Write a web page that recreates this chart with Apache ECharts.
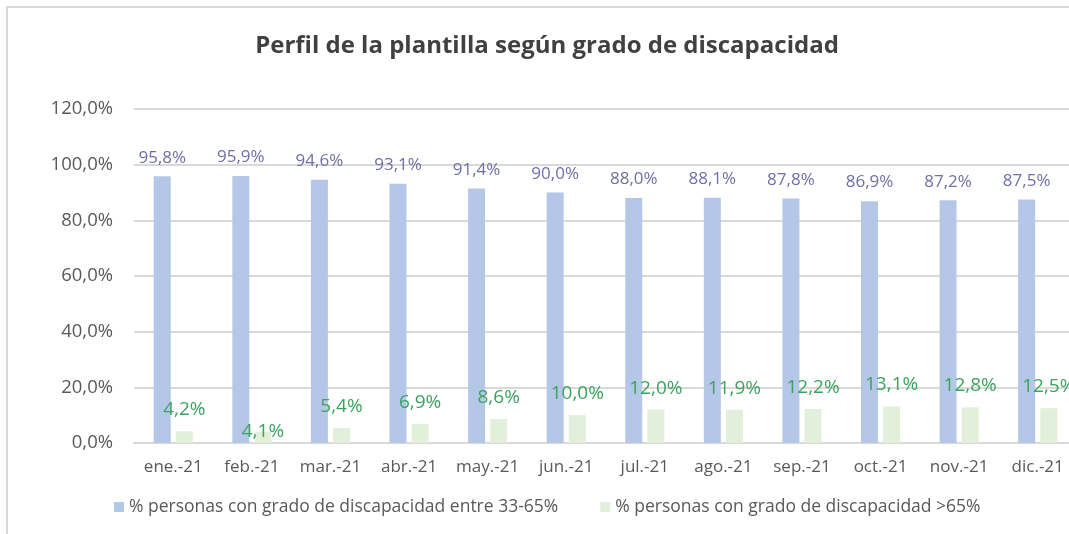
<!DOCTYPE html>
<html>
<head>
<meta charset="utf-8">
<script src="https://cdn.jsdelivr.net/npm/echarts@6/dist/echarts.min.js"></script>
<style>
html,body{margin:0;padding:0;background:#fff;}
#c{width:1069px;height:534px;}
</style>
</head>
<body>
<div id="c"></div>
<script>
const categories = ['ene.-21','feb.-21','mar.-21','abr.-21','may.-21','jun.-21','jul.-21','ago.-21','sep.-21','oct.-21','nov.-21','dic.-21'];
const seriesNames = ['% personas con grado de discapacidad entre 33-65%', '% personas con grado de discapacidad >65%'];
const grade33to65 = [95.8, 95.9, 94.6, 93.1, 91.4, 90.0, 88.0, 88.1, 87.8, 86.9, 87.2, 87.5];
const gradeOver65 = [4.2, 4.1, 5.4, 6.9, 8.6, 10.0, 12.0, 11.9, 12.2, 13.1, 12.8, 12.5];
const yTicks = { min: 0, max: 120, interval: 20 };

const FONT = '"Open Sans", "Noto Sans", sans-serif';
const fmt = v => v.toFixed(1).replace('.', ',') + '%';

const chart = echarts.init(document.getElementById('c'));
const greenData = gradeOver65.map((v, i) => {
  const item = { value: v };
  if (i === 1) item.label = { offset: [0, 22] };
  return item;
});
chart.setOption({
  animation: false,
  backgroundColor: '#ffffff',
  title: {
    text: 'Perfil de la plantilla según grado de discapacidad',
    left: 542, top: 29, textAlign: 'center',
    textStyle: { fontFamily: FONT, fontSize: 24, fontWeight: 'bold', color: '#404040' }
  },
  graphic: [{
    type: 'rect', silent: true,
    shape: { x: 7, y: 7, width: 1100, height: 560 },
    style: { fill: 'none', stroke: '#D9D9D9', lineWidth: 2 }
  }],
  legend: {
    left: 109, top: 493, itemWidth: 10, itemHeight: 10, itemGap: 42,
    icon: 'rect',
    textStyle: { fontFamily: FONT, fontSize: 17.5, color: '#595959' },
    data: seriesNames
  },
  grid: { left: 134, top: 109, width: 943, bottom: 91, containLabel: false, outerBoundsMode: 'none' },
  xAxis: {
    type: 'category', data: categories,
    axisLine: { lineStyle: { color: '#D9D9D9', width: 2 } },
    axisTick: { show: false },
    axisLabel: { interval: 0, hideOverlap: false, fontFamily: FONT, fontSize: 17, color: '#595959', margin: 16 }
  },
  yAxis: {
    type: 'value', min: yTicks.min, max: yTicks.max, interval: yTicks.interval,
    axisLine: { show: false }, axisTick: { show: false },
    splitLine: { lineStyle: { color: '#D9D9D9', width: 2 } },
    axisLabel: { fontFamily: FONT, fontSize: 18.5, color: '#595959', margin: 21, formatter: v => fmt(v) }
  },
  series: [{
    name: seriesNames[0], type: 'bar', data: grade33to65,
    barWidth: 17, barGap: '30%',
    itemStyle: { color: '#B4C7E7' },
    label: { show: true, position: 'top', distance: 10, fontFamily: FONT, fontSize: 17, color: '#6E6FA6', formatter: p => fmt(p.value) }
  }, {
    name: seriesNames[1], type: 'bar', data: greenData,
    barWidth: 17,
    itemStyle: { color: '#E2EFDA' },
    label: { show: true, position: 'top', distance: 12, fontFamily: FONT, fontSize: 19, color: '#3CA35E', formatter: p => fmt(p.value) }
  }]
});
</script>
</body>
</html>
